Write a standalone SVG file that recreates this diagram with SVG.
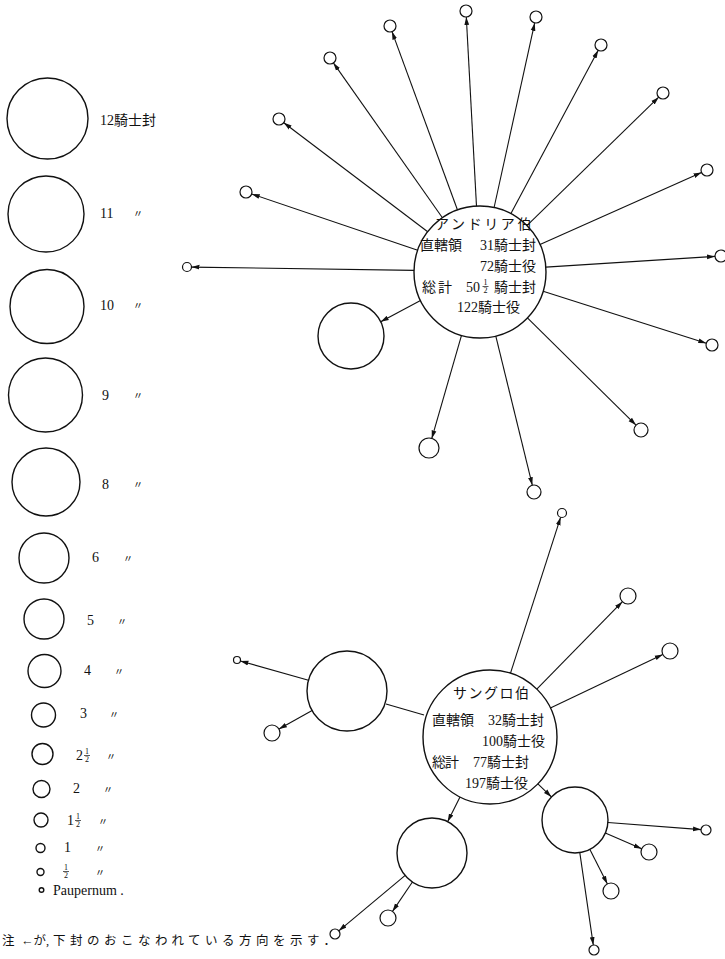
<svg xmlns="http://www.w3.org/2000/svg" width="725" height="959" viewBox="0 0 725 959">
<style>
.c{fill:none;stroke:#111;stroke-width:1.4}
.s{fill:none;stroke:#111;stroke-width:1.2}
.l{fill:none;stroke:#111;stroke-width:1.1}
.a{marker-end:url(#ah)}
.t{font-family:"Liberation Serif","Noto Sans CJK JP",serif;font-size:14px;fill:#111}
.j{font-family:"Liberation Serif","Noto Sans CJK JP",serif;font-size:14px;fill:#111}
.n{font-family:"Liberation Serif","Noto Sans CJK JP",serif;font-size:12.5px;fill:#111}
.d{font-family:"Noto Sans CJK JP",sans-serif;font-size:10px;fill:#111}
.f{font-family:"Liberation Serif",serif;font-size:8px;fill:#111;text-anchor:middle}
.fb{stroke:#111;stroke-width:0.7}
</style>
<defs>
<marker id="ah" markerWidth="8" markerHeight="6" refX="8" refY="3" orient="auto" markerUnits="userSpaceOnUse">
<path d="M0,0.6 L8,3 L0,5.4 z" fill="#111"/>
</marker>
</defs>
<rect width="725" height="959" fill="#fff"/>

<g id="legend">
<circle class="c" cx="47.5" cy="118.5" r="40.5"/>
<text class="j" x="100" y="125">12騎士封</text>
<circle class="c" cx="46" cy="214" r="38"/>
<text class="t" x="100" y="218">11</text><text class="d" x="133" y="217">〃</text>
<circle class="c" cx="47" cy="306.5" r="37"/>
<text class="t" x="100" y="310">10</text><text class="d" x="133" y="309">〃</text>
<circle class="c" cx="45.5" cy="395" r="37"/>
<text class="t" x="102" y="400">9</text><text class="d" x="133" y="399">〃</text>
<circle class="c" cx="46" cy="482" r="34"/>
<text class="t" x="102" y="489">8</text><text class="d" x="133" y="488">〃</text>
<circle class="c" cx="44" cy="558" r="25"/>
<text class="t" x="92" y="562">6</text><text class="d" x="123" y="562">〃</text>
<circle class="c" cx="44" cy="619" r="20"/>
<text class="t" x="87" y="625">5</text><text class="d" x="117" y="625">〃</text>
<circle class="c" cx="44.5" cy="671" r="16.5"/>
<text class="t" x="84" y="675">4</text><text class="d" x="114" y="675">〃</text>
<circle class="c" cx="43.5" cy="715" r="12"/>
<text class="t" x="80" y="718">3</text><text class="d" x="109" y="718">〃</text>
<circle class="c" cx="42.5" cy="754" r="10.5"/>
<text class="t" x="76" y="760">2</text>
<text class="f" x="87" y="754">1</text><line class="fb" x1="84" y1="755.5" x2="90" y2="755.5"/><text class="f" x="87" y="762">2</text>
<text class="d" x="106" y="760">〃</text>
<circle class="c" cx="41.5" cy="789" r="8.5"/>
<text class="t" x="73" y="793">2</text><text class="d" x="103" y="793">〃</text>
<circle class="c" cx="41" cy="820" r="7"/>
<text class="t" x="67" y="825">1</text>
<text class="f" x="78" y="819">1</text><line class="fb" x1="75" y1="820.5" x2="81" y2="820.5"/><text class="f" x="78" y="827">2</text>
<text class="d" x="98" y="825">〃</text>
<circle class="c" cx="40.5" cy="848" r="4.5"/>
<text class="t" x="64" y="852">1</text><text class="d" x="95" y="852">〃</text>
<circle class="c" cx="40.5" cy="872" r="3.5"/>
<text class="f" x="66" y="870">1</text><line class="fb" x1="63" y1="871.5" x2="69" y2="871.5"/><text class="f" x="66" y="878">2</text>
<text class="d" x="95" y="876">〃</text>
<circle class="c" cx="41.5" cy="890" r="2.3"/>
<text class="t" x="53" y="895">Paupernum .</text>
</g>

<g id="note">
<text class="n" x="2" y="945">注</text>
<text class="n" x="21" y="945">←が,</text>
<text class="n" x="53" y="945" style="letter-spacing:4.5px">下封のおこなわれている方向を示す．</text>
</g>

<g id="andria">
<circle class="c" cx="480" cy="272" r="66"/>
<text class="j" x="435" y="229" style="letter-spacing:2.6px">アンドリア伯</text>
<text class="j" x="420" y="250">直轄領</text><text class="j" x="480" y="250">31騎士封</text>
<text class="j" x="480" y="271">72騎士役</text>
<text class="j" x="422" y="292" style="letter-spacing:2px">総計</text><text class="j" x="466" y="292">50</text>
<text class="f" x="485.5" y="285">1</text><line class="fb" x1="482.5" y1="286.5" x2="488.5" y2="286.5"/><text class="f" x="485.5" y="293">2</text>
<text class="j" x="494" y="292">騎士封</text>
<text class="j" x="457" y="312">122騎士役</text>
</g>

<g id="andria-vassals">
<circle class="s" cx="330" cy="58" r="6"/>
<circle class="s" cx="390" cy="26" r="6"/>
<circle class="s" cx="466" cy="11" r="6"/>
<circle class="s" cx="536" cy="17" r="6"/>
<circle class="s" cx="601" cy="45" r="6"/>
<circle class="s" cx="663" cy="93" r="6"/>
<circle class="s" cx="707" cy="170" r="6"/>
<circle class="s" cx="721" cy="256" r="6"/>
<circle class="s" cx="712" cy="345" r="6"/>
<circle class="s" cx="641" cy="430" r="7"/>
<circle class="s" cx="534" cy="492" r="7"/>
<circle class="s" cx="429" cy="448" r="10"/>
<circle class="c" cx="351" cy="336" r="33"/>
<circle class="s" cx="187" cy="267" r="4.5"/>
<circle class="s" cx="246" cy="192" r="6"/>
<circle class="s" cx="279" cy="119" r="6"/>
</g>

<g id="sangro">
<circle class="c" cx="490" cy="737" r="67"/>
<text class="j" x="453" y="698" style="letter-spacing:1.5px">サングロ伯</text>
<text class="j" x="432" y="725">直轄領</text><text class="j" x="488" y="725">32騎士封</text>
<text class="j" x="482" y="746">100騎士役</text>
<text class="j" x="432" y="767" style="letter-spacing:-1px">総計</text><text class="j" x="473" y="767">77騎士封</text>
<text class="j" x="465" y="788">197騎士役</text>
</g>

<g id="sangro-vassals">
<circle class="s" cx="562" cy="513" r="4.5"/>
<circle class="s" cx="628" cy="596" r="8"/>
<circle class="s" cx="670" cy="651" r="8"/>
<circle class="c" cx="347" cy="691" r="40"/>
<circle class="s" cx="237" cy="660" r="3.5"/>
<circle class="s" cx="272" cy="733" r="8"/>
<circle class="c" cx="432" cy="853" r="35"/>
<circle class="s" cx="335" cy="934" r="5"/>
<circle class="s" cx="388" cy="918" r="8"/>
<circle class="c" cx="575" cy="820" r="33"/>
<circle class="s" cx="706" cy="830" r="5"/>
<circle class="s" cx="649" cy="852" r="8"/>
<circle class="s" cx="611" cy="891" r="8"/>
<circle class="s" cx="594" cy="950" r="5"/>
</g>

<g id="connectors">
<line class="l a" x1="442.4" y1="217.8" x2="333.4" y2="62.9"/>
<line class="l a" x1="457.5" y1="210" x2="392" y2="31.6"/>
<line class="l a" x1="476.5" y1="206.1" x2="466.3" y2="17"/>
<line class="l a" x1="494.1" y1="207.5" x2="534.7" y2="22.9"/>
<line class="l a" x1="510.8" y1="213.7" x2="598.2" y2="50.3"/>
<line class="l a" x1="526.9" y1="225.6" x2="658.7" y2="97.2"/>
<line class="l a" x1="540" y1="244.5" x2="701.5" y2="172.5"/>
<line class="l a" x1="545.8" y1="267.1" x2="715" y2="256.4"/>
<line class="l a" x1="543.1" y1="291.3" x2="706.3" y2="343.2"/>
<line class="l a" x1="527.4" y1="317.9" x2="636" y2="425.1"/>
<line class="l a" x1="495.8" y1="336.1" x2="532.3" y2="485.2"/>
<line class="l a" x1="461.5" y1="335.4" x2="431.8" y2="438.4"/>
<line class="l a" x1="420.5" y1="300.6" x2="380.7" y2="321.7"/>
<line class="l a" x1="414" y1="270.4" x2="191.5" y2="267.1"/>
<line class="l a" x1="417.7" y1="250.2" x2="251.7" y2="194"/>
<line class="l a" x1="427.7" y1="231.7" x2="283.8" y2="122.7"/>

<line class="l a" x1="510.5" y1="673.2" x2="560.6" y2="517.3"/>
<line class="l a" x1="536.8" y1="689.1" x2="622.4" y2="601.7"/>
<line class="l a" x1="550.4" y1="708.1" x2="662.8" y2="654.4"/>
<line class="l" x1="424" y1="715" x2="386" y2="704"/>
<line class="l a" x1="308.5" y1="680.2" x2="240.4" y2="661"/>
<line class="l a" x1="312.1" y1="710.5" x2="279" y2="729.1"/>
<line class="l a" x1="460" y1="796.9" x2="447.6" y2="821.7"/>
<line class="l a" x1="537.9" y1="783.8" x2="551.4" y2="796.9"/>
<line class="l a" x1="405.2" y1="875.4" x2="338.8" y2="930.8"/>
<line class="l a" x1="412.4" y1="882" x2="392.5" y2="911.4"/>
<line class="l a" x1="607.9" y1="822.5" x2="701" y2="829.6"/>
<line class="l a" x1="605.3" y1="833.1" x2="641.7" y2="848.8"/>
<line class="l a" x1="589.9" y1="849.4" x2="607.4" y2="883.9"/>
<line class="l a" x1="579.8" y1="852.7" x2="593.3" y2="945.1"/>
</g>
</svg>
